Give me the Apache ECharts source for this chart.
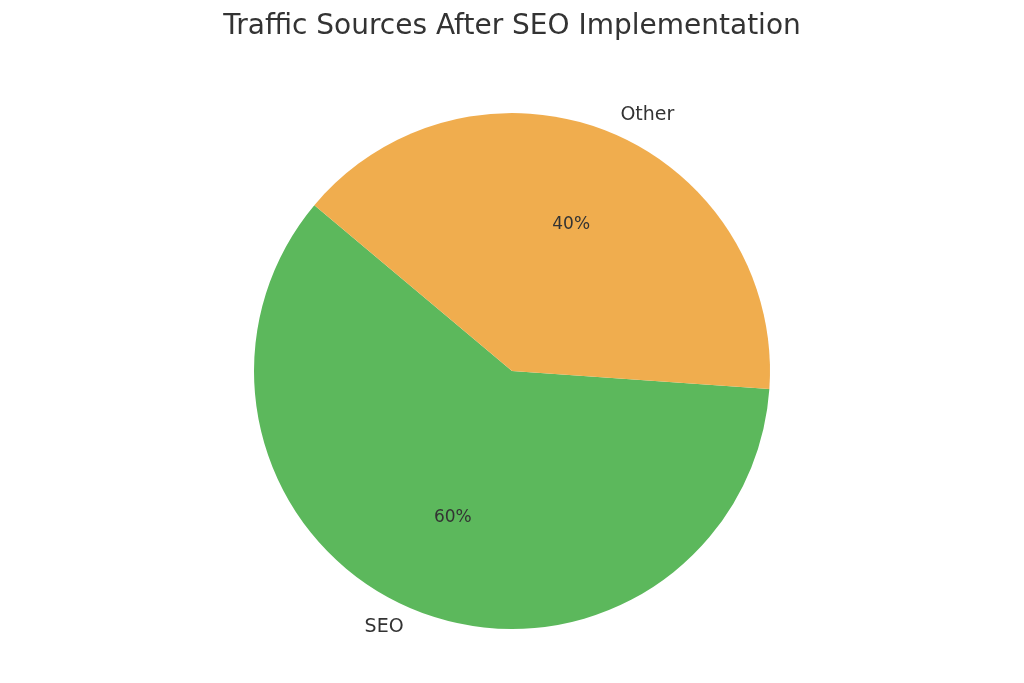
<!DOCTYPE html>
<html><head><meta charset="utf-8">
<script src="https://cdn.jsdelivr.net/npm/echarts@6/dist/echarts.min.js"></script>
<style>html,body{margin:0;background:#fff}#c{width:1024px;height:683px}</style>
</head><body><div id="c"></div>
<script>
const categories = ['SEO', 'Other'];
const values = [60, 40];
const colors = ['#5cb85c', '#f0ad4e'];
const data = categories.map((n, i) => ({name: n, value: values[i], itemStyle: {color: colors[i]}}));
const chart = echarts.init(document.getElementById('c'));
chart.setOption({
  title: {text: 'Traffic Sources After SEO Implementation', left: 'center', top: 8,
    textStyle: {fontFamily: 'DejaVu Sans', fontSize: 28, fontWeight: 'normal', color: '#333'}},
  series: [
    {type: 'pie', center: [512, 371], radius: [0, 258], startAngle: 140, clockwise: false,
     data: data, silent: true,
     label: {position: 'outside', formatter: '{b}', fontFamily: 'DejaVu Sans', fontSize: 19, color: '#333'},
     labelLine: {show: false, length: 18, length2: 0}},
    {type: 'pie', center: [512, 371], radius: [0, 310], startAngle: 140, clockwise: false,
     silent: true,
     data: categories.map((n, i) => ({name: n, value: values[i], itemStyle: {color: 'transparent'}})),
     label: {position: 'inside', formatter: '{d}%', fontFamily: 'DejaVu Sans', fontSize: 17, color: '#333'},
     labelLine: {show: false}}
  ]
});
</script></body></html>
